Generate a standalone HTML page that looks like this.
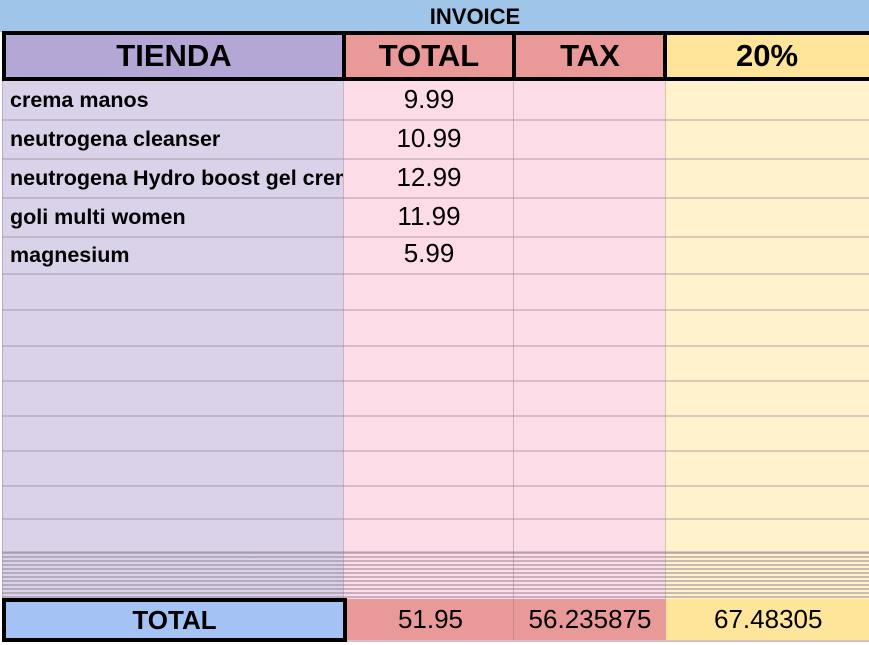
<!DOCTYPE html>
<html><head><meta charset="utf-8"><style>
body{margin:0;width:869px;height:645px;overflow:hidden;background:#fff;font-family:"Liberation Sans",Arial,sans-serif;position:relative}
div{position:absolute;box-sizing:border-box}
.t{display:flex;align-items:center}
.c{justify-content:center}
.b{background:#000}
.n{font-size:26px}
.l{font-weight:bold;font-size:21.5px;white-space:nowrap;overflow:hidden}
</style></head><body>
<div style="left:0;top:0;width:869px;height:32px;background:#9fc5e8"></div>
<div class="t c" style="left:0;top:2px;width:950px;height:30px;font-weight:bold;font-size:22px">INVOICE</div>
<div style="left:3px;top:80px;width:341px;height:519px;background:#d9d2e9"></div>
<div style="left:344px;top:80px;width:170px;height:519px;background:#fcdce6"></div>
<div style="left:514px;top:80px;width:152px;height:519px;background:#fcdce6"></div>
<div style="left:666px;top:80px;width:203px;height:519px;background:#fff2cc"></div>
<div style="left:2px;top:80px;width:1px;height:519px;background:#b8aec8"></div>
<div style="left:343px;top:80px;width:1px;height:519px;background:#c9b3c0"></div>
<div style="left:513px;top:80px;width:1px;height:519px;background:#c9b3c0"></div>
<div style="left:665px;top:80px;width:1px;height:519px;background:#d4c4a8"></div>
<div id="g"></div>
<script>
var ys=[119,158,197,236,273,309,345,380,415,450,485,518,551];
var h='';ys.forEach(function(y){h+='<div style="left:2px;top:'+y+'px;width:867px;height:2px;background:rgba(150,130,150,0.35)"></div>';});
document.getElementById('g').outerHTML=h;
</script>
<div style="left:2px;top:552px;width:867px;height:46px;background:repeating-linear-gradient(to bottom,rgba(140,120,140,0.45) 0 2px,transparent 2px 4px)"></div>
<!-- header -->
<div style="left:2px;top:31px;width:342px;height:50px;background:#b4a7d6"></div>
<div style="left:344px;top:31px;width:170px;height:50px;background:#ea9999"></div>
<div style="left:514px;top:31px;width:152px;height:50px;background:#ea9999"></div>
<div style="left:666px;top:31px;width:203px;height:50px;background:#ffe599"></div>
<div class="b" style="left:2px;top:31px;width:867px;height:4px"></div>
<div class="b" style="left:2px;top:77px;width:867px;height:4px"></div>
<div class="b" style="left:2px;top:31px;width:4px;height:50px"></div>
<div class="b" style="left:342px;top:31px;width:4px;height:50px"></div>
<div class="b" style="left:512px;top:31px;width:4px;height:50px"></div>
<div class="b" style="left:663px;top:31px;width:4px;height:50px"></div>
<div class="t c" style="left:2px;top:33px;width:344px;height:46px;font-weight:bold;font-size:31px">TIENDA</div>
<div class="t c" style="left:344px;top:33px;width:170px;height:46px;font-weight:bold;font-size:31px">TOTAL</div>
<div class="t c" style="left:514px;top:33px;width:152px;height:46px;font-weight:bold;font-size:31px">TAX</div>
<div class="t c" style="left:666px;top:33px;width:203px;height:46px;font-weight:bold;font-size:31px;padding-left:70px;justify-content:flex-start">20%</div>
<!-- rows -->
<div class="t l" style="left:10px;top:81px;width:333px;height:38px">crema manos</div>
<div class="t l" style="left:10px;top:120px;width:333px;height:38px">neutrogena cleanser</div>
<div class="t l" style="left:10px;top:159px;width:333px;height:38px">neutrogena Hydro boost gel crema</div>
<div class="t l" style="left:10px;top:198px;width:333px;height:38px">goli multi women</div>
<div class="t l" style="left:10px;top:237px;width:333px;height:36px">magnesium</div>
<div class="t c n" style="left:344px;top:80px;width:170px;height:38px">9.99</div>
<div class="t c n" style="left:344px;top:119px;width:170px;height:38px">10.99</div>
<div class="t c n" style="left:344px;top:158px;width:170px;height:38px">12.99</div>
<div class="t c n" style="left:344px;top:197px;width:170px;height:38px">11.99</div>
<div class="t c n" style="left:344px;top:234px;width:170px;height:38px">5.99</div>
<!-- total row -->
<div class="t c" style="left:2px;top:598px;width:345px;height:44px;background:#a4c2f4;border:4px solid #000;font-weight:bold;font-size:26px">TOTAL</div>
<div class="t c n" style="left:347px;top:599px;width:167px;height:41px;background:#ea9999">51.95</div>
<div style="left:513px;top:599px;width:1px;height:41px;background:#c98888"></div>
<div class="t c n" style="left:514px;top:599px;width:152px;height:41px;background:#ea9999">56.235875</div>
<div class="t n" style="left:666px;top:599px;width:203px;height:41px;background:#ffe599;padding-left:48px">67.48305</div>
<div style="left:347px;top:640px;width:522px;height:2px;background:#d8c0c0"></div>
</body></html>
